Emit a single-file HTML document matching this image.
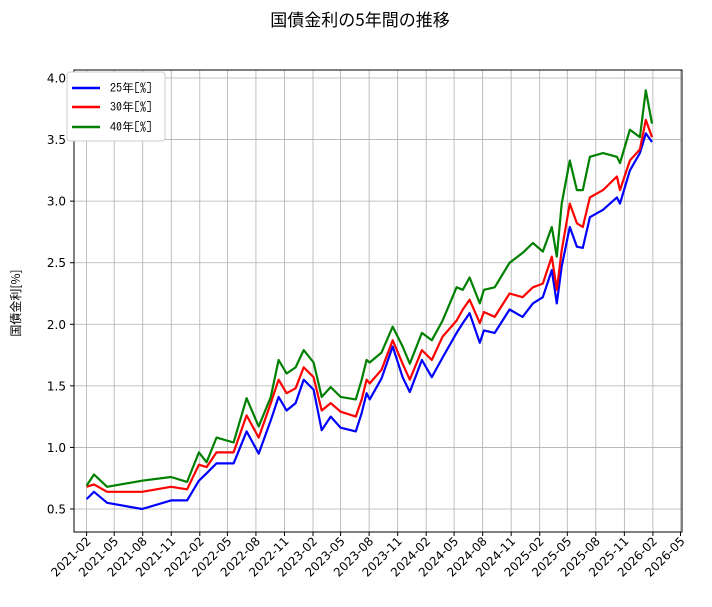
<!DOCTYPE html>
<html><head><meta charset="utf-8"><style>
body{margin:0;background:#fff;}
svg{font-family:"DejaVu Sans","Liberation Sans",sans-serif;}
</style></head><body>
<svg id="chart" width="712" height="602" xmlns="http://www.w3.org/2000/svg">
<text x="360" y="26" text-anchor="middle" font-size="17" font-family="'Noto Sans CJK JP',IPAGothic,sans-serif">国債金利の5年間の推移</text>
<text transform="translate(20,303) rotate(-90)" text-anchor="middle" font-size="12" font-family="'Noto Sans CJK JP',IPAGothic,sans-serif">国債金利[%]</text>
<g id="grid"></g><g id="lines"></g><g id="axes"></g>
<rect x="74" y="70" width="608" height="462" fill="none" stroke="#000" stroke-width="1"/>
<g>
<rect x="67" y="72" width="98" height="69" rx="3" fill="#fff" stroke="#ccc"/>
<g><line x1="72" y1="88" x2="100" y2="88" stroke="#0000ff" stroke-width="2.5"/><text x="110" y="92" font-size="12" font-family="IPAGothic,'Noto Sans CJK JP',monospace">25年[%]</text></g>
<g><line x1="72" y1="107" x2="100" y2="107" stroke="#ff0000" stroke-width="2.5"/><text x="110" y="111" font-size="12" font-family="IPAGothic,'Noto Sans CJK JP',monospace">30年[%]</text></g>
<g><line x1="72" y1="127" x2="100" y2="127" stroke="#008000" stroke-width="2.5"/><text x="110" y="131" font-size="12" font-family="IPAGothic,'Noto Sans CJK JP',monospace">40年[%]</text></g>
</g>
</svg>
<script>
const dates=["2021-02-01","2021-02-25","2021-04-08","2021-07-30","2021-10-31","2021-12-22","2022-01-29","2022-02-23","2022-03-27","2022-05-21","2022-07-02","2022-08-10","2022-09-18","2022-10-13","2022-11-08","2022-12-07","2023-01-02","2023-02-03","2023-03-01","2023-03-30","2023-05-01","2023-06-19","2023-07-08","2023-07-24","2023-08-03","2023-09-10","2023-10-16","2023-11-17","2023-12-10","2024-01-18","2024-02-19","2024-03-25","2024-05-09","2024-05-29","2024-06-20","2024-07-23","2024-08-05","2024-09-09","2024-10-27","2024-12-08","2025-01-10","2025-02-11","2025-03-12","2025-03-28","2025-04-13","2025-05-09","2025-06-01","2025-06-20","2025-07-13","2025-08-24","2025-10-08","2025-10-18","2025-11-19","2025-12-21","2026-01-09","2026-01-29"];
const y25=[0.58,0.64,0.55,0.50,0.57,0.57,0.73,0.79,0.87,0.87,1.13,0.95,1.22,1.41,1.30,1.36,1.55,1.47,1.14,1.25,1.16,1.13,1.28,1.44,1.39,1.56,1.82,1.57,1.45,1.71,1.57,1.73,1.93,2.01,2.09,1.85,1.95,1.93,2.12,2.06,2.17,2.22,2.44,2.17,2.47,2.79,2.63,2.62,2.87,2.93,3.03,2.98,3.25,3.39,3.55,3.48];
const y30=[0.68,0.70,0.64,0.64,0.68,0.66,0.86,0.84,0.96,0.96,1.26,1.08,1.36,1.55,1.44,1.48,1.65,1.57,1.30,1.36,1.29,1.25,1.39,1.55,1.52,1.63,1.87,1.68,1.55,1.79,1.71,1.90,2.03,2.12,2.20,2.01,2.10,2.06,2.25,2.22,2.30,2.33,2.55,2.28,2.60,2.98,2.82,2.79,3.03,3.09,3.20,3.09,3.33,3.42,3.66,3.52];
const y40=[0.69,0.78,0.68,0.73,0.76,0.72,0.96,0.88,1.08,1.04,1.40,1.17,1.41,1.71,1.60,1.65,1.79,1.69,1.41,1.49,1.41,1.39,1.55,1.71,1.69,1.77,1.98,1.82,1.68,1.93,1.87,2.03,2.30,2.28,2.38,2.17,2.28,2.30,2.50,2.58,2.66,2.59,2.79,2.55,2.98,3.33,3.09,3.09,3.36,3.39,3.36,3.31,3.58,3.52,3.90,3.63];
const yTicks=[0.5,1.0,1.5,2.0,2.5,3.0,3.5,4.0];
const xTicks=["2021-02","2021-05","2021-08","2021-11","2022-02","2022-05","2022-08","2022-11","2023-02","2023-05","2023-08","2023-11","2024-02","2024-05","2024-08","2024-11","2025-02","2025-05","2025-08","2025-11","2026-02","2026-05"];
const NS="http://www.w3.org/2000/svg";
const t0=Date.UTC(2021,1,1);
function days(s){const p=s.split("-").map(Number);return (Date.UTC(p[0],p[1]-1,p[2]||1)-t0)/864e5;}
function X(s){return 86.6+days(s)*(680.5-86.6)/1915;}
function Y(v){return 509-(v-0.5)*(431/3.5);}
const grid=document.getElementById("grid"),axes=document.getElementById("axes"),lines=document.getElementById("lines");
function mk(tag,attrs,parent){const e=document.createElementNS(NS,tag);for(const k in attrs)e.setAttribute(k,attrs[k]);parent.appendChild(e);return e;}
yTicks.forEach(v=>{const y=Y(v);
const g=mk("line",{x1:74,x2:682,y1:y,y2:y,stroke:"#b0b0b0","stroke-width":0.8},grid);


mk("line",{x1:70,x2:74,y1:y,y2:y,stroke:"#000"},axes);
const t=mk("text",{x:66,y:y+4.5,"text-anchor":"end","font-size":12},axes);t.textContent=v.toFixed(1);


});
xTicks.forEach(s=>{const x=X(s+"-01");
const g=mk("line",{x1:x,x2:x,y1:70,y2:532,stroke:"#b0b0b0","stroke-width":0.8},grid);


mk("line",{x1:x,x2:x,y1:532,y2:536,stroke:"#000"},axes);
const t=mk("text",{transform:`translate(${x+5},${542}) rotate(-45)`,"text-anchor":"end","font-size":12},axes);t.textContent=s;


});
[[y25,"#0000ff","line-25y"],[y30,"#ff0000","line-30y"],[y40,"#008000","line-40y"]].forEach(([arr,c,n])=>{
const pts=arr.map((v,i)=>X(dates[i]).toFixed(1)+","+Y(v).toFixed(1)).join(" ");
const p=mk("polyline",{points:pts,fill:"none",stroke:c,"stroke-width":2.2,"stroke-linejoin":"round"},lines);


});
</script>
</body></html>
